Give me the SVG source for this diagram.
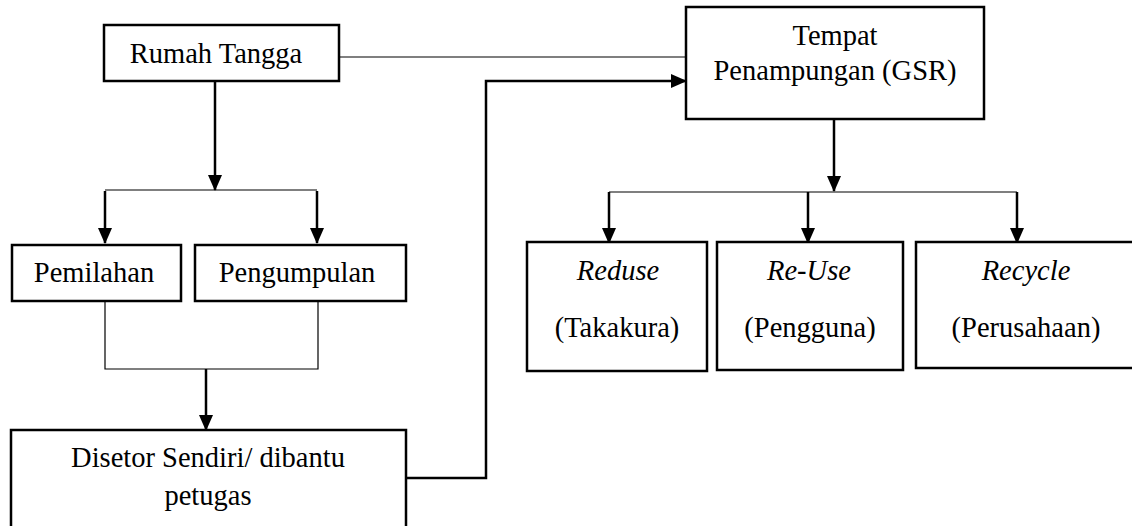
<svg xmlns="http://www.w3.org/2000/svg" width="1132" height="526" viewBox="0 0 1132 526">
<style>
.box{fill:#fff;stroke:#000;stroke-width:2.5}
.t{font-family:'Liberation Serif','Times New Roman',Times,serif;font-size:28.5px;fill:#000;text-anchor:middle}
.i{font-style:italic}
.thin{fill:none;stroke:#000;stroke-width:1.2}
.thick{fill:none;stroke:#000;stroke-width:2.5}
</style>
<defs>
<marker id="ah" markerWidth="16" markerHeight="14" refX="15" refY="7" orient="auto" markerUnits="userSpaceOnUse" viewBox="0 0 16 14">
<path d="M0,0 L16,7 L0,14 Z" fill="#000"/>
</marker>
</defs>
<g id="connectors">
<path class="thin" d="M339,57 H686"/>
<path class="thick" d="M215,81 V190" marker-end="url(#ah)"/>
<path class="thin" d="M105,190 H317"/>
<path class="thick" d="M105,191 V243" marker-end="url(#ah)"/>
<path class="thick" d="M317,191 V243" marker-end="url(#ah)"/>
<path class="thin" d="M105,301 V369 H318 V301"/>
<path class="thick" d="M206,369 V430" marker-end="url(#ah)"/>
<path class="thick" d="M406,478 H486 V81 H686" marker-end="url(#ah)"/>
<path class="thick" d="M834,119 V191" marker-end="url(#ah)"/>
<path class="thin" d="M609,192 H1017"/>
<path class="thick" d="M609,192 V243" marker-end="url(#ah)"/>
<path class="thick" d="M808,192 V243" marker-end="url(#ah)"/>
<path class="thick" d="M1017,192 V243" marker-end="url(#ah)"/>
</g>
<g id="rumah">
<rect class="box" x="104" y="25" width="235" height="56"/>
<text class="t" x="216" y="63">Rumah Tangga</text>
</g>
<g id="tempat">
<rect class="box" x="686" y="7" width="298" height="112"/>
<text class="t" x="835" y="45">Tempat</text>
<text class="t" x="835" y="80">Penampungan (GSR)</text>
</g>
<g id="pemilahan">
<rect class="box" x="12" y="245" width="169" height="56"/>
<text class="t" x="94" y="282">Pemilahan</text>
</g>
<g id="pengumpulan">
<rect class="box" x="195" y="245" width="211" height="56"/>
<text class="t" x="297" y="282">Pengumpulan</text>
</g>
<g id="disetor">
<rect class="box" x="11" y="430" width="395" height="110"/>
<text class="t" x="208" y="467">Disetor Sendiri/ dibantu</text>
<text class="t" x="208" y="505">petugas</text>
</g>
<g id="reduse">
<rect class="box" x="527" y="242" width="180" height="129"/>
<text class="t i" x="618" y="280">Reduse</text>
<text class="t" x="617" y="337">(Takakura)</text>
</g>
<g id="reuse">
<rect class="box" x="717" y="242" width="186" height="128"/>
<text class="t i" x="809" y="280">Re-Use</text>
<text class="t" x="810" y="337">(Pengguna)</text>
</g>
<g id="recycle">
<rect class="box" x="916" y="242" width="222" height="126"/>
<text class="t i" x="1026" y="280">Recycle</text>
<text class="t" x="1026" y="337">(Perusahaan)</text>
</g>
</svg>
